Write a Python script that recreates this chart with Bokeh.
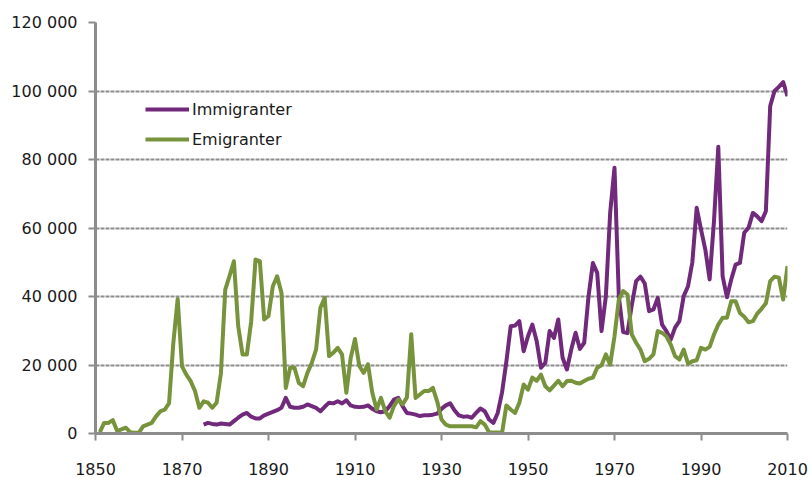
from bokeh.plotting import figure
from bokeh.models import FixedTicker, Legend, LegendItem, Range1d
from bokeh.embed import file_html
from bokeh.resources import INLINE

# ---- data ----
emi_years = list(range(1851, 2011))
emigranter = [
    400, 3100, 3100, 3900, 700, 1200, 1700, 400, 200, 200,            # 1851-1860
    2100, 2600, 3100, 5000, 6500, 7000, 8800, 26500, 39300, 19600,    # 1861-1870
    17200, 15300, 12400, 7500, 9400, 9000, 7500, 9000, 17600, 42000,  # 1871-1880
    46000, 50300, 31300, 23100, 23100, 32800, 50800, 50300, 33300, 34300,  # 1881-1890
    43000, 45900, 41100, 13300, 19200, 19200, 14800, 13800, 17700, 20600,  # 1891-1900
    24500, 36700, 39600, 22600, 23600, 25000, 23100, 11900, 22000, 27600,  # 1901-1910
    19700, 17700, 20200, 11900, 7000, 10400, 6500, 4600, 8000, 10000,  # 1911-1920
    8500, 10500, 29000, 10400, 11400, 12400, 12400, 13300, 9400, 4100,  # 1921-1930
    2600, 2100, 2100, 2100, 2100, 2100, 2100, 1800, 3600, 2600,       # 1931-1940
    400, 300, 300, 200, 8200, 7000, 6000, 9000, 14300, 12800,         # 1941-1950
    16300, 15400, 17200, 13800, 12600, 14000, 15400, 13800, 15300, 15400,  # 1951-1960
    14800, 14600, 15300, 16000, 16300, 19200, 19900, 23100, 20100, 28400,  # 1961-1970
    39100, 41600, 40600, 28900, 26500, 24500, 21100, 21800, 23100, 29900,  # 1971-1980
    29400, 28400, 26000, 22600, 21600, 24500, 20400, 21100, 21400, 25000,  # 1981-1990
    24500, 25300, 28900, 31800, 33800, 33800, 38600, 38600, 35200, 34100,  # 1991-2000
    32500, 32800, 35000, 36400, 38000, 44500, 45800, 45500, 39100, 48900,  # 2001-2010
]
imm_years = list(range(1875, 2011))
immigranter = [
    2600, 3100, 2800, 2600, 2900, 2800,                                # 1875-1880
    2600, 3600, 4600, 5500, 6000, 4900, 4400, 4400, 5300, 5800,        # 1881-1890
    6300, 6800, 7500, 10400, 7800, 7500, 7500, 7800, 8500, 8000,       # 1891-1900
    7500, 6500, 7800, 9000, 8800, 9400, 8800, 9700, 8200, 7800,        # 1901-1910
    7700, 7800, 8200, 7200, 6500, 6200, 6500, 8000, 9900, 10400,       # 1911-1920
    8000, 6000, 5800, 5500, 5100, 5300, 5300, 5500, 5800, 7200,        # 1921-1930
    8200, 8800, 6800, 5300, 4900, 5000, 4600, 6000, 7300, 6500,        # 1931-1940
    4100, 3100, 6000, 12000, 21000, 31300, 31500, 32800, 24000, 28400,  # 1941-1950
    31800, 27000, 19200, 20600, 29900, 27900, 33300, 22100, 18700, 24500,  # 1951-1960
    29400, 24700, 26500, 40100, 49800, 46900, 29900, 40000, 64500, 77600,  # 1961-1970
    40000, 29600, 29300, 37500, 44500, 45800, 43800, 35700, 36200, 39600,  # 1971-1980
    31800, 29900, 27400, 30900, 32800, 40100, 43000, 50000, 65900, 59600,  # 1981-1990
    53700, 45000, 62000, 83700, 45900, 39800, 45000, 49300, 49800, 58600,  # 1991-2000
    60100, 64400, 63400, 62000, 64900, 95600, 100000, 101200, 102600, 98500,  # 2001-2010
]
x_ticks = [1850, 1870, 1890, 1910, 1930, 1950, 1970, 1990, 2010]
y_ticks = [0, 20000, 40000, 60000, 80000, 100000, 120000]
y_tick_labels = ["0", "20 000", "40 000", "60 000", "80 000", "100 000", "120 000"]
series_names = ["Immigranter", "Emigranter"]

PURPLE = "#71297b"
GREEN = "#77933c"
GRAY = "#8c8c8c"
FONT = "DejaVu Sans"

p = figure(width=812, height=477, output_backend="svg", toolbar_location=None,
           x_range=Range1d(1850, 2010), y_range=Range1d(0, 120000),
           min_border_left=95, min_border_right=25, min_border_top=22,
           min_border_bottom=43, background_fill_color="white")
p.outline_line_color = None

p.xgrid.visible = False
p.ygrid.ticker = FixedTicker(ticks=y_ticks)
p.ygrid.grid_line_color = GRAY
p.ygrid.grid_line_width = 2
p.ygrid.grid_line_dash = "4 1"

for ax in (p.xaxis[0], p.yaxis[0]):
    ax.axis_line_color = GRAY
    ax.axis_line_width = 3
    ax.major_tick_line_color = GRAY
    ax.major_tick_line_width = 2
    ax.major_tick_in = 0
    ax.major_tick_out = 7
    ax.minor_tick_line_color = None
    ax.major_label_text_font = FONT
    ax.major_label_text_font_size = "16px"
    ax.major_label_text_color = "#1a1a1a"

p.xaxis.ticker = FixedTicker(ticks=x_ticks)
p.xaxis.major_label_standoff = 22
p.yaxis.ticker = FixedTicker(ticks=y_ticks)
p.yaxis.major_label_overrides = {t: l for t, l in zip(y_ticks, y_tick_labels)}
p.yaxis.major_label_standoff = 11

r_imm = p.line(imm_years, immigranter, line_color=PURPLE, line_width=4, line_join="round")
r_emi = p.line(emi_years, emigranter, line_color=GREEN, line_width=4, line_join="round")

legend = Legend(items=[LegendItem(label=series_names[0], renderers=[r_imm]),
                       LegendItem(label=series_names[1], renderers=[r_emi])],
                location=(50, 284), orientation="vertical",
                border_line_color=None, background_fill_alpha=0,
                glyph_width=44, glyph_height=20, label_height=20, label_width=20,
                label_standoff=3, spacing=10, padding=0, margin=0,
                label_text_font=FONT, label_text_font_size="16px",
                label_text_color="#1a1a1a")
p.add_layout(legend)

open("out.html", "w").write(file_html(p, INLINE))
